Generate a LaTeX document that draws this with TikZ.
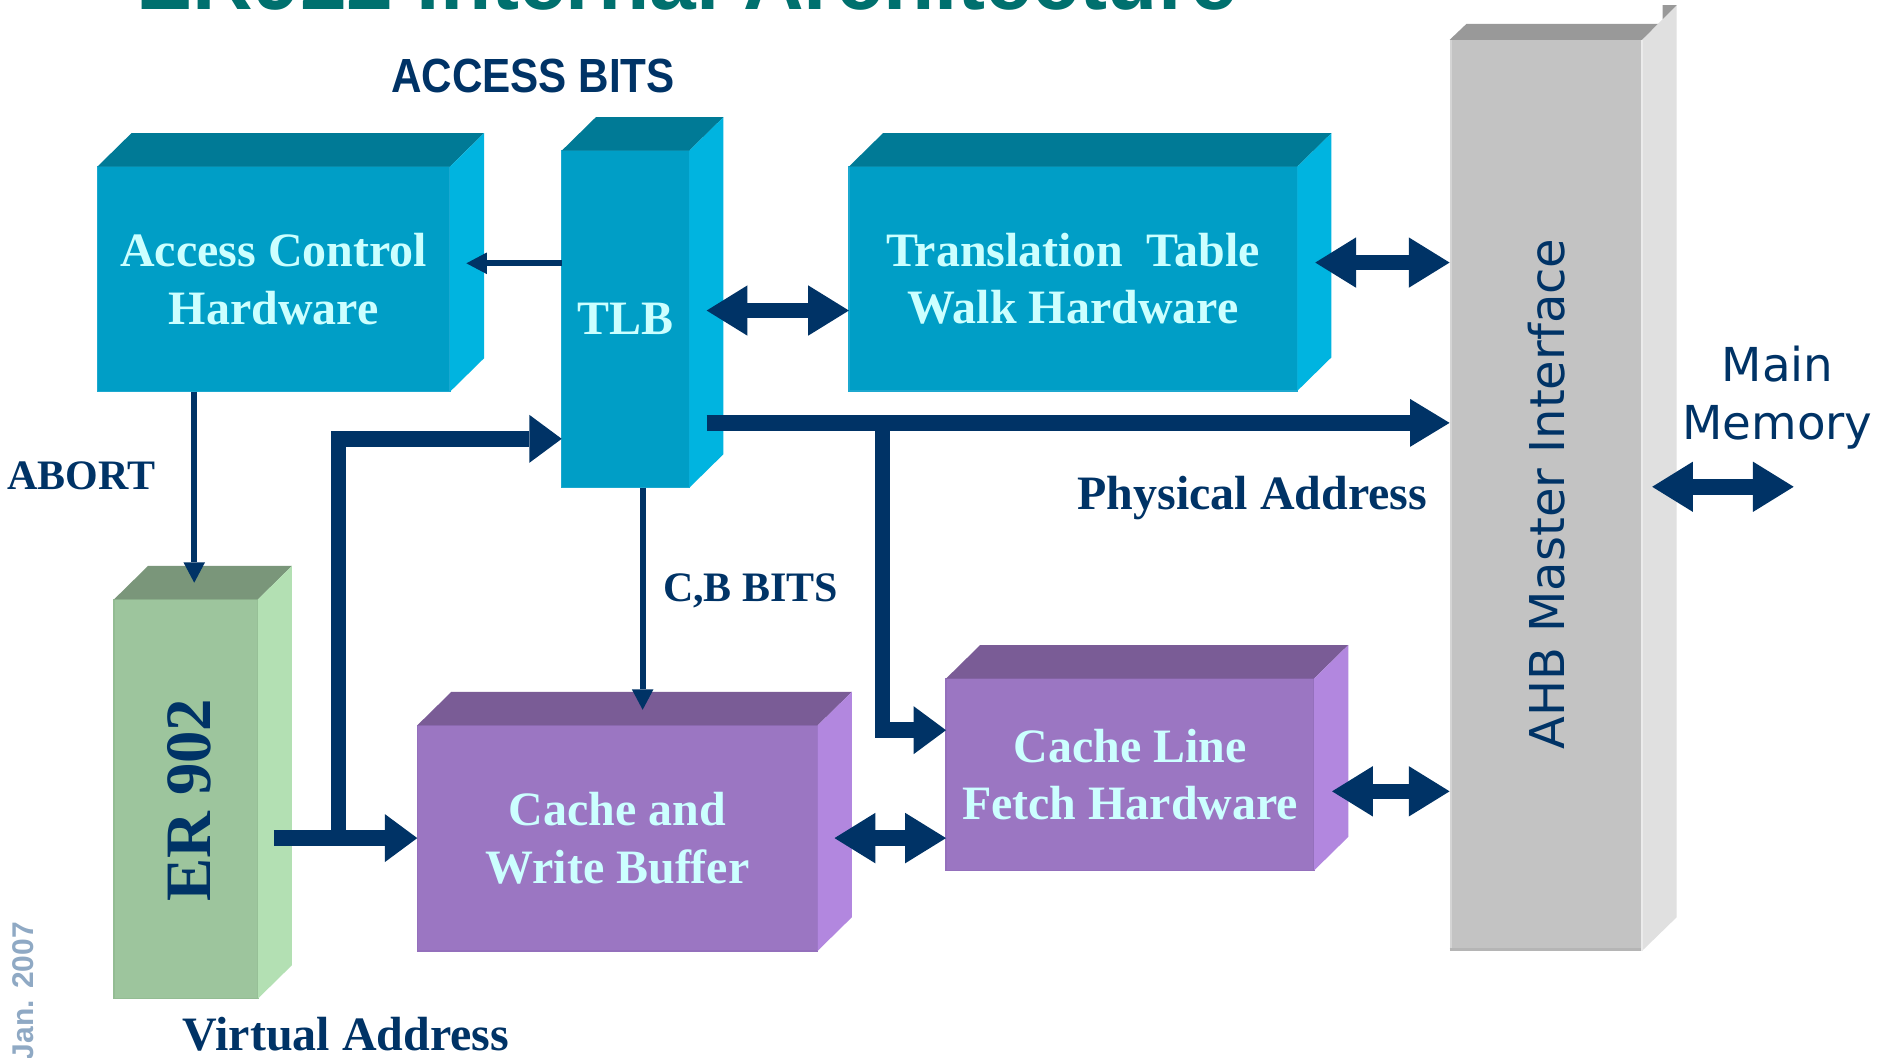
\documentclass[tikz,border=0pt]{standalone}
\usepackage{fontspec}
\usepackage{graphicx}
\setmainfont{Liberation Serif}
\newfontfamily\arialfont{Liberation Sans}
\newfontfamily\verdfont{DejaVu Sans}
\usetikzlibrary{arrows.meta,calc}

\definecolor{navy}{HTML}{003366}
\definecolor{boxtext}{HTML}{CCFFFF}
\definecolor{titleteal}{HTML}{00706E}
\definecolor{janblue}{HTML}{8FA9C4}
\definecolor{tealFront}{HTML}{009EC6}
\definecolor{tealTop}{HTML}{007A96}
\definecolor{tealSide}{HTML}{00B4E0}
\definecolor{tealEdge}{HTML}{1CA8CF}
\definecolor{purpleFront}{HTML}{9B76C2}
\definecolor{purpleTop}{HTML}{7A5C96}
\definecolor{purpleSide}{HTML}{B287DF}
\definecolor{purpleEdge}{HTML}{9470BC}
\definecolor{greenFront}{HTML}{9DC59D}
\definecolor{greenTop}{HTML}{7A967A}
\definecolor{greenSide}{HTML}{B3E0B3}
\definecolor{greenEdge}{HTML}{93BC93}
\definecolor{grayFront}{HTML}{C3C3C3}
\definecolor{grayTop}{HTML}{999999}
\definecolor{graySide}{HTML}{E0E0E0}

\newcommand\boxfont{\bfseries\fontsize{40}{48}\selectfont}
\newcommand\lblfont{\bfseries\fontsize{40}{48}\selectfont}

% top and side faces of a cube whose front face is the node #1
\newcommand\drawcubefaces[3]{%
  \fill[#2] (#1.north west) -- ++(28.5,-28) -- ($(#1.north east)+(28.5,-28)$) -- (#1.north east) -- cycle;
  \fill[#3] (#1.north east) -- ($(#1.north east)+(28.5,-28)$) -- ($(#1.south east)+(28.5,-28)$) -- (#1.south east) -- cycle;}

\begin{document}
\begin{tikzpicture}[x=1pt,y=-1pt,
  front/.style={inner sep=0pt, outer sep=0pt, align=center, text=boxtext, font=\boxfont, line width=1.2pt},
  lbl/.style={inner sep=0pt, outer sep=0pt, text=navy, font=\lblfont},
  thinarrow/.style={draw=navy, line width=5pt, -{Triangle[length=17pt,width=18pt,line width=0pt]}},
  thickline/.style={draw=navy, line width=13pt, line join=miter},
  thickarrow/.style={thickline, -{Triangle[length=27pt,width=40pt,line width=0pt]}},
  longhead/.style={thickline, -{Triangle[length=33pt,width=40pt,line width=0pt]}},
  dblarrow/.style={thickline, {Triangle[length=34pt,width=42pt,line width=0pt]}-{Triangle[length=34pt,width=42pt,line width=0pt]}}
]
\useasboundingbox (0,0) rectangle (1568,882);
\clip (0,0) rectangle (1568,882);
\fill[white] (0,0) rectangle (1568,882);

% heading
\node[anchor=base west, inner sep=0pt, text=titleteal, font=\arialfont\bfseries\fontsize{70}{80}\selectfont] (title) at (114,8) {ER922 Internal Architecture};

% blue blocks
\node[front, fill=tealFront, draw=tealEdge, minimum width=294.1pt, minimum height=187.7pt] (acc) at (228.25,232.85) {Access Control\\Hardware};
\drawcubefaces{acc}{tealTop}{tealSide}
\node[front, fill=tealFront, draw=tealEdge, minimum width=106.4pt, minimum height=281.1pt] (tlb) at (521.7,266.25) {TLB};
\drawcubefaces{tlb}{tealTop}{tealSide}
\node[front, fill=tealFront, draw=tealEdge, minimum width=374pt, minimum height=187pt] (ttw) at (895,232.5) {Translation\ \ Table\\Walk Hardware};
\drawcubefaces{ttw}{tealTop}{tealSide}

% processor core
\node[front, fill=greenFront, draw=greenEdge, minimum width=120pt, minimum height=333pt] (er) at (155,666.5) {};
\drawcubefaces{er}{greenTop}{greenSide}
\node[rotate=90, inner sep=0pt, text=navy, font=\bfseries\fontsize{54}{60}\selectfont] (ertext) at (157.5,667.5) {ER 902};

% purple blocks
\node[front, fill=purpleFront, draw=purpleEdge, minimum width=334pt, minimum height=188pt] (cwb) at (515,699) {Cache and\\Write Buffer};
\drawcubefaces{cwb}{purpleTop}{purpleSide}
\node[front, fill=purpleFront, draw=purpleEdge, minimum width=307pt, minimum height=160pt] (clf) at (942.5,646) {Cache Line\\Fetch Hardware};
\drawcubefaces{clf}{purpleTop}{purpleSide}

% bus interface column
\node[inner sep=0pt, outer sep=0pt, fill=grayFront, minimum width=160.6pt, minimum height=759.7pt] (ahb) at (1289.3,413.15) {};
\fill[grayTop] (ahb.north west) -- ++(14,-13.3) -- ($(ahb.north east)+(14.4,-13.3)$) -- (ahb.north east) -- cycle;
\fill[graySide] (ahb.north east) -- ++(28.8,-29) -- ($(ahb.south east)+(28.8,-28)$) -- (ahb.south east) -- cycle;
\fill[grayTop] ($(ahb.north east)+(17.1,-29)$) -- ++(11.7,0) -- ++(-11.7,11.7) -- cycle;
\draw[line width=2pt, color=black!17] ([xshift=1pt]ahb.north west) -- ([xshift=1pt]ahb.south west);
\draw[line width=2pt, color=black!29] ([yshift=1pt]ahb.south west) -- ([yshift=1pt]ahb.south east);
\draw[line width=1.5pt, color=black!8] (ahb.north east) -- (ahb.south east);
\node[rotate=90, inner sep=0pt, text=navy, font=\verdfont\fontsize{40}{48}\selectfont] (ahbtext) at (1290,412) {AHB Master Interface};

% labels
\node[anchor=base, inner sep=0pt, text=navy, font=\arialfont\bfseries\fontsize{40}{48}\selectfont] (accbits) at (444.5,77) {\scalebox{0.88}[1]{ACCESS BITS}};
\node[lbl, anchor=base, font=\bfseries\fontsize{35}{40}\selectfont] (abortlbl) at (68,408) {ABORT};
\node[lbl, anchor=base, font=\bfseries\fontsize{35}{40}\selectfont] (cblbl) at (626,502) {C,B BITS};
\node[lbl, anchor=base] (phys) at (1044.5,425) {Physical Address};
\node[lbl, anchor=base] (virt) at (288.5,876) {Virtual Address};
\node[anchor=north, inner sep=0pt, align=center, text=navy, font=\verdfont\fontsize{39}{48}\selectfont] (mem) at (1482.5,288.4) {Main\\Memory};
\node[rotate=90, anchor=base east, inner sep=0pt, text=janblue, font=\arialfont\bfseries\fontsize{25}{30}\selectfont] (date) at (28,769) {Jan. 2007};

% connection points on block faces
\coordinate (accIn) at (389,219.6);
\coordinate (erTopIn) at (162,486);
\coordinate (cwbTopIn) at (536,592);
\coordinate (erOut) at (228.5,699);
\coordinate (vaSplit) at (282.2,699);
\coordinate (vaCorner) at (282.2,366);
\coordinate (paOut) at (589.4,352.7);
\coordinate (paSplit) at (736,352.7);
\coordinate (paCorner) at (736,609);
\coordinate (tlbSide) at (589.4,259);
\coordinate (ttwSide) at (1097,219);
\coordinate (cwbSide) at (696,699);
\coordinate (clfSide) at (1111,660);
\coordinate (memL) at (1378,406);
\coordinate (memR) at (1496,406);

% thin control arrows
\draw[thinarrow] (tlb.west |- accIn) -- (accIn);
\draw[thinarrow] (acc.south -| erTopIn) -- (erTopIn);
\draw[thinarrow] (tlb.south -| cwbTopIn) -- (cwbTopIn);

% virtual address
\draw[thickarrow] (erOut) -- (cwb.west |- erOut);
\draw[thickarrow] (vaSplit) -- (vaCorner) -- (tlb.west |- vaCorner);

% physical address
\draw[longhead] (paOut) -- (ahb.west |- paOut);
\draw[thickarrow] (paSplit) -- (paCorner) -- (clf.west |- paCorner);

% data paths
\draw[dblarrow] (tlbSide) -- (ttw.west |- tlbSide);
\draw[dblarrow] (ttwSide) -- (ahb.west |- ttwSide);
\draw[dblarrow] (cwbSide) -- (clf.west |- cwbSide);
\draw[dblarrow] (clfSide) -- (ahb.west |- clfSide);
\draw[dblarrow] (memL) -- (memR);
\end{tikzpicture}
\end{document}
